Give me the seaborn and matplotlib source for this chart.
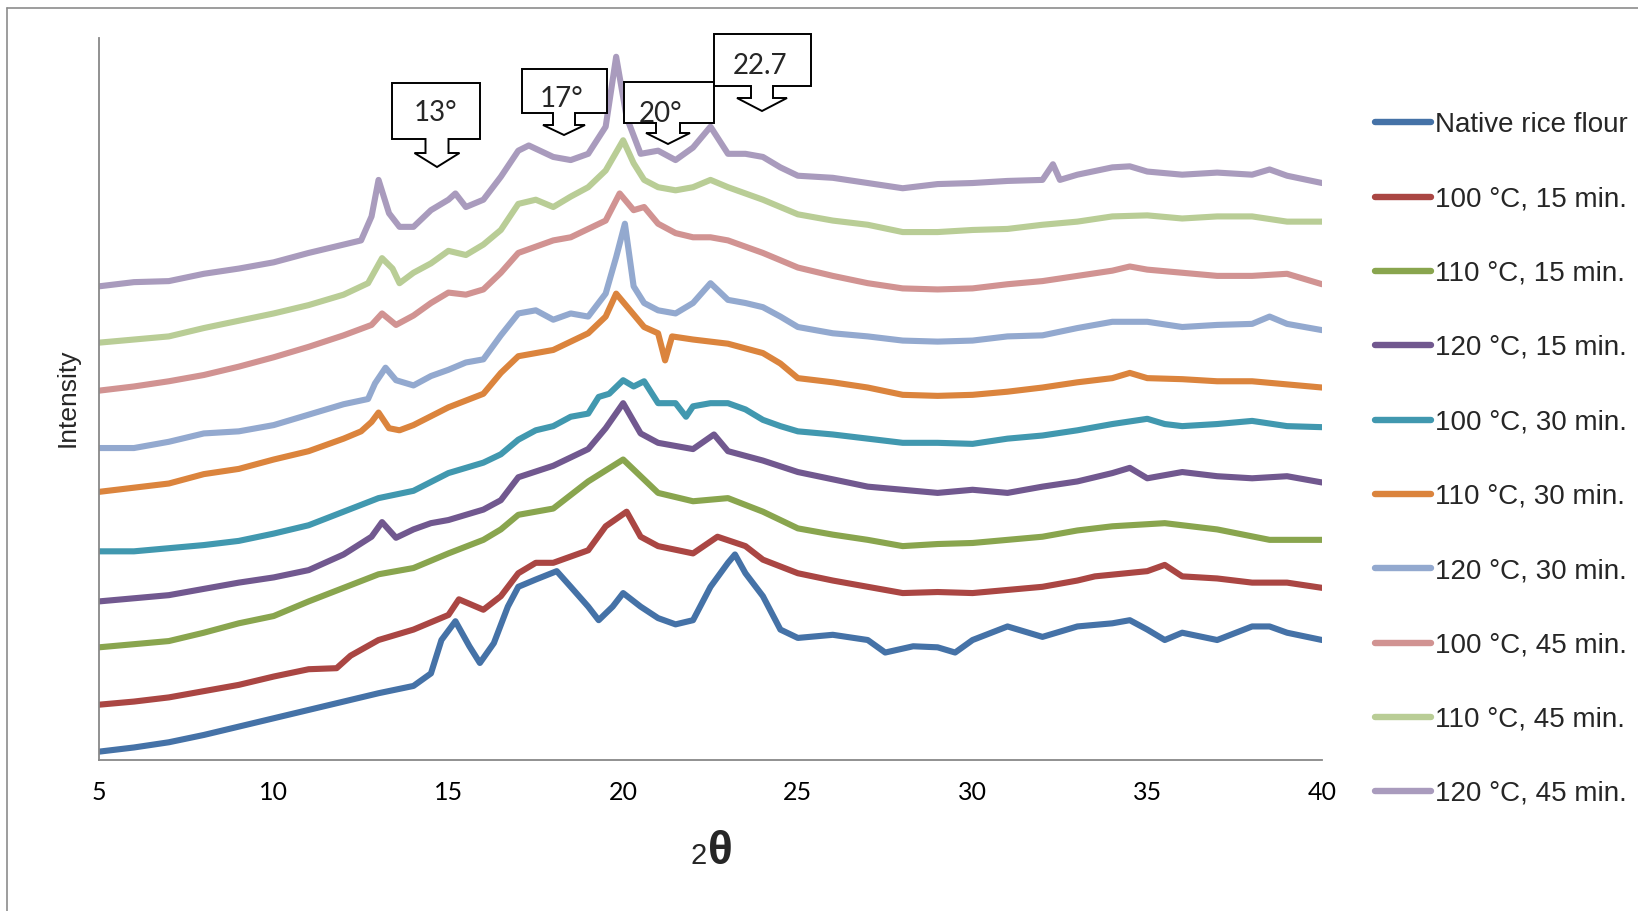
import matplotlib
matplotlib.use("Agg")
import matplotlib.pyplot as plt
from matplotlib.patches import Polygon
from matplotlib.lines import Line2D
import seaborn as sns
import pandas as pd

# ---------------- data ----------------
series_names = ["Native rice flour", "100 °C, 15 min.", "110 °C, 15 min.", "120 °C, 15 min.",
                "100 °C, 30 min.", "110 °C, 30 min.", "120 °C, 30 min.",
                "100 °C, 45 min.", "110 °C, 45 min.", "120 °C, 45 min."]
series_colors = ["#4572A7", "#AA4643", "#89A54E", "#71588F", "#4198AF",
                 "#DB843D", "#93A9CF", "#D19392", "#B9CD96", "#A99BBD"]

native_x = [5, 6, 7, 8, 9, 10, 11, 12, 13, 14, 14.5, 14.8, 15.2, 15.6, 15.9, 16.3, 16.7, 17, 17.5, 18.1,
            18.5, 19, 19.3, 19.7, 20, 20.5, 21, 21.5, 22, 22.5, 23, 23.2, 23.5, 24, 24.5, 25, 26, 27, 27.5,
            28.3, 29, 29.5, 30, 31, 32, 33, 34, 34.5, 35, 35.5, 36, 37, 38, 38.5, 39, 40]
native_y = [8, 12, 17, 24, 32, 40, 48, 56, 64, 71, 83, 115, 133, 109, 93, 112, 147, 166, 173, 181,
            166, 147, 134, 147, 160, 147, 136, 130, 134, 166, 189, 197, 179, 157, 125, 117, 120, 115, 103,
            109, 108, 103, 115, 128, 118, 128, 131, 134, 125, 115, 122, 115, 128, 128, 122, 115]

r100_15_x = [5, 6, 7, 8, 9, 10, 11, 11.8, 12.2, 13, 14, 15, 15.3, 16, 16.5, 17, 17.5, 18, 19, 19.5,
             20.1, 20.5, 21, 22, 22.7, 23.5, 24, 25, 26, 27, 28, 29, 30, 31, 32, 33, 33.5, 35, 35.5,
             36, 37, 38, 39, 40]
r100_15_y = [53, 56, 60, 66, 72, 80, 87, 88, 100, 115, 125, 139, 154, 144, 157, 179, 189, 189, 201, 224,
             238, 214, 205, 198, 214, 205, 192, 179, 172, 166, 160, 161, 160, 163, 166, 172, 176, 181, 187,
             176, 174, 170, 170, 165]

r110_15_x = [5, 6, 7, 8, 9, 10, 11, 12, 13, 14, 15, 16, 16.5, 17, 18, 19, 20, 20.5, 21, 22, 23, 24,
             25, 26, 27, 28, 29, 30, 31, 32, 33, 34, 35.5, 37, 38.5, 40]
r110_15_y = [108, 111, 114, 122, 131, 138, 152, 165, 178, 184, 198, 211, 221, 235, 241, 267, 288, 272,
             256, 248, 251, 238, 222, 216, 211, 205, 207, 208, 211, 214, 220, 224, 227, 221, 211, 211]

r120_15_x = [5, 7, 9, 10, 11, 12, 12.8, 13.1, 13.5, 14, 14.5, 15, 16, 16.5, 17, 18, 19, 19.5, 20, 20.5,
             21, 22, 22.6, 23, 24, 25, 26, 27, 28, 29, 30, 31, 32, 33, 34, 34.5, 35, 36, 37, 38, 39, 40]
r120_15_y = [152, 158, 170, 175, 182, 197, 214, 228, 213, 221, 227, 230, 240, 249, 271, 282, 298, 318,
             342, 313, 304, 298, 312, 296, 287, 276, 269, 262, 259, 256, 259, 256, 262, 267, 275, 280,
             270, 276, 272, 270, 272, 266]

r100_30_x = [5, 6, 7, 8, 9, 10, 11, 12, 13, 14, 15, 16, 16.5, 17, 17.5, 18, 18.5, 19, 19.3, 19.6, 20,
             20.3, 20.6, 21, 21.5, 21.8, 22, 22.5, 23, 23.5, 24, 24.5, 25, 26, 27, 28, 29, 30, 31, 32,
             33, 34, 35, 35.5, 36, 37, 38, 39, 40]
r100_30_y = [200, 200, 203, 206, 210, 217, 225, 238, 251, 258, 275, 285, 293, 307, 316, 320, 329, 332,
             348, 351, 364, 358, 363, 342, 342, 329, 339, 342, 342, 336, 326, 320, 315, 312, 308, 304,
             304, 303, 308, 311, 316, 322, 327, 322, 320, 322, 325, 320, 319]

r110_30_x = [5, 6, 7, 8, 9, 10, 11, 12, 12.5, 12.8, 13, 13.3, 13.6, 14, 15, 16, 16.5, 17, 18, 19, 19.5,
             19.8, 20.2, 20.6, 21, 21.2, 21.4, 22, 23, 24, 24.5, 25, 26, 27, 28, 29, 30, 31, 32, 33, 34,
             34.5, 35, 36, 37, 38, 39, 40]
r110_30_y = [257, 261, 265, 274, 279, 288, 296, 308, 315, 324, 333, 318, 316, 321, 338, 351, 371, 387,
             393, 409, 425, 447, 431, 415, 409, 383, 406, 403, 399, 390, 380, 366, 362, 357, 350, 349,
             350, 353, 357, 362, 366, 371, 366, 365, 363, 363, 360, 357]

r120_30_x = [5, 6, 7, 8, 9, 10, 11, 12, 12.7, 12.9, 13.2, 13.5, 14, 14.5, 15, 15.5, 16, 16.5, 17, 17.5,
             18, 18.5, 19, 19.5, 19.8, 20.05, 20.3, 20.6, 21, 21.5, 22, 22.5, 23, 23.5, 24, 24.5, 25, 26,
             27, 28, 29, 30, 31, 32, 33, 34, 35, 36, 37, 38, 38.5, 39, 40]
r120_30_y = [299, 299, 305, 313, 315, 321, 331, 341, 346, 361, 376, 364, 359, 368, 374, 381, 384, 407,
             428, 431, 422, 428, 425, 447, 482, 514, 454, 438, 431, 428, 438, 457, 441, 438, 434, 425,
             415, 409, 406, 402, 401, 402, 406, 407, 414, 420, 420, 415, 417, 418, 425, 418, 412]

r100_45_x = [5, 6, 7, 8, 9, 10, 11, 12, 12.8, 13.1, 13.5, 14, 14.5, 15, 15.5, 16, 16.5, 17, 17.5, 18,
             18.5, 19, 19.5, 19.9, 20.3, 20.6, 21, 21.5, 22, 22.5, 23, 23.5, 24, 24.5, 25, 26, 27, 28,
             29, 30, 31, 32, 33, 34, 34.5, 35, 36, 37, 38, 39, 40]
r100_45_y = [354, 358, 363, 369, 377, 386, 396, 407, 417, 428, 417, 426, 438, 448, 446, 451, 467, 486,
             492, 498, 501, 509, 517, 543, 527, 530, 514, 505, 501, 501, 498, 492, 486, 479, 472, 464,
             457, 452, 451, 452, 456, 459, 464, 469, 473, 470, 467, 464, 464, 466, 456]

r110_45_x = [5, 6, 7, 8, 9, 10, 11, 12, 12.7, 13.1, 13.4, 13.6, 14, 14.5, 15, 15.5, 16, 16.5, 17, 17.5,
             18, 18.5, 19, 19.5, 20, 20.3, 20.6, 21, 21.5, 22, 22.5, 23, 23.5, 24, 24.5, 25, 26, 27, 28,
             29, 30, 31, 32, 33, 34, 35, 36, 37, 38, 39, 40]
r110_45_y = [400, 403, 406, 414, 421, 428, 436, 446, 457, 481, 471, 457, 467, 476, 488, 484, 494, 508,
             533, 537, 530, 540, 549, 565, 594, 572, 556, 549, 546, 549, 556, 549, 543, 537, 530, 523,
             517, 513, 506, 506, 508, 509, 513, 516, 521, 522, 519, 521, 521, 516, 516]

r120_45_x = [5, 6, 7, 8, 9, 10, 11, 12, 12.5, 12.8, 13, 13.3, 13.6, 14, 14.5, 15, 15.2, 15.5, 16, 16.5,
             17, 17.3, 18, 18.5, 19, 19.5, 19.8, 20.1, 20.5, 21, 21.5, 22, 22.5, 23, 23.5, 24, 24.5, 25,
             26, 27, 28, 29, 30, 31, 32, 32.3, 32.5, 33, 34, 34.5, 35, 36, 37, 38, 38.5, 39, 40]
r120_45_y = [454, 458, 459, 466, 471, 477, 486, 494, 498, 521, 556, 524, 511, 511, 527, 537, 543, 530,
             537, 559, 584, 589, 578, 575, 581, 607, 674, 616, 581, 584, 575, 587, 607, 581, 581, 578,
             568, 560, 558, 553, 548, 552, 553, 555, 556, 571, 556, 561, 568, 569, 564, 561, 563, 561,
             566, 560, 553]

all_x = [native_x, r100_15_x, r110_15_x, r120_15_x, r100_30_x, r110_30_x, r120_30_x,
         r100_45_x, r110_45_x, r120_45_x]
all_y = [native_y, r100_15_y, r110_15_y, r120_15_y, r100_30_y, r110_30_y, r120_30_y,
         r100_45_y, r110_45_y, r120_45_y]

x_ticks = [5, 10, 15, 20, 25, 30, 35, 40]
peak_labels = ["13°", "17°", "20°", "22.7"]

# ---------------- build long-form table ----------------
frames = []
for name, xs, ys in zip(series_names, all_x, all_y):
    frames.append(pd.DataFrame({"theta": xs, "intensity": ys, "sample": name}))
df = pd.concat(frames, ignore_index=True)

W, H = 1638, 911
sns.set_style("white")
CAL = ["Lato", "DejaVu Sans"]
ARIAL = ["Liberation Sans", "DejaVu Sans"]
plt.rcParams["font.family"] = CAL

fig = plt.figure(figsize=(W / 100, H / 100), dpi=100)
ax = fig.add_axes([99 / W, 1 - 760 / H, (1322 - 99) / W, (760 - 38) / H])

sns.lineplot(data=df, x="theta", y="intensity", hue="sample", hue_order=series_names,
             palette=dict(zip(series_names, series_colors)), estimator=None, sort=True,
             linewidth=4.4, legend=False, ax=ax)

ax.set_xlim(5, 40)
ax.set_ylim(0, 692)
ax.set_xticks(x_ticks)
ax.set_xticklabels([str(t) for t in x_ticks], fontsize=18, family=CAL)
ax.set_yticks([])
ax.set_xlabel("")
ax.set_ylabel("")
for s in ["top", "right"]:
    ax.spines[s].set_visible(False)
for s in ["left", "bottom"]:
    ax.spines[s].set_color("#888888")
    ax.spines[s].set_linewidth(1.3)
ax.tick_params(axis="x", direction="out", length=6, width=1.3, color="#888888", pad=9,
               labelcolor="black")


def fx(px):
    return px / W


def fy(py):
    return 1 - py / H


# chart-area border (only top and left edges are inside the image)
fig.add_artist(Line2D([fx(7), fx(W + 5)], [fy(8), fy(8)], color="#8c8c8c", lw=1.2))
fig.add_artist(Line2D([fx(7), fx(7)], [fy(8), fy(H + 5)], color="#8c8c8c", lw=1.2))

# y label
fig.text(fx(68), fy(398), "Intensity", rotation=90, ha="center", va="center",
         fontsize=19, family=ARIAL)

# x label "2θ"
fig.text(fx(707), fy(864), "2", ha="right", va="baseline", fontsize=21, family=ARIAL)
fig.text(fx(708), fy(864), "θ", ha="left", va="baseline", fontsize=33, fontweight="bold",
         family=ARIAL)

# callout boxes: (left, right, top, bottom, arrow x, stem half, stem bottom, head half, tip, text x, text y)
callouts = [
    (392, 480, 83, 139, 437, 11.5, 153, 22.5, 167, 436, 113),
    (522, 607, 69, 113, 564, 11, 125, 21, 135, 562, 99),
    (624, 714, 82, 123, 668, 12, 133, 22, 144, 661, 114),
    (714, 811, 34, 86, 762, 11, 98, 25, 111, 760, 66),
]
for lab, (l, r, t, b, cx, sh, sb, hh, tip, tx, ty) in zip(peak_labels, callouts):
    pts = [(l, t), (r, t), (r, b), (cx + sh, b), (cx + sh, sb), (cx + hh, sb), (cx, tip),
           (cx - hh, sb), (cx - sh, sb), (cx - sh, b), (l, b)]
    poly = Polygon([(fx(p[0]), fy(p[1])) for p in pts], closed=True, transform=fig.transFigure,
                   facecolor="white", edgecolor="black", lw=1.4, zorder=5)
    fig.add_artist(poly)
    fig.text(fx(tx), fy(ty), lab, ha="center", va="center", fontsize=20, zorder=6, family=CAL)

# legend
handles = [Line2D([0], [0], color=c, lw=4.6) for c in series_colors]
fig.legend(handles, series_names, loc="upper left", bbox_to_anchor=(fx(1375), fy(112)),
           frameon=False, prop={"family": ARIAL, "size": 20}, handlelength=2.0,
           handletextpad=0.15, labelspacing=1.74, borderpad=0, borderaxespad=0)

fig.savefig("out.png", dpi=100)
